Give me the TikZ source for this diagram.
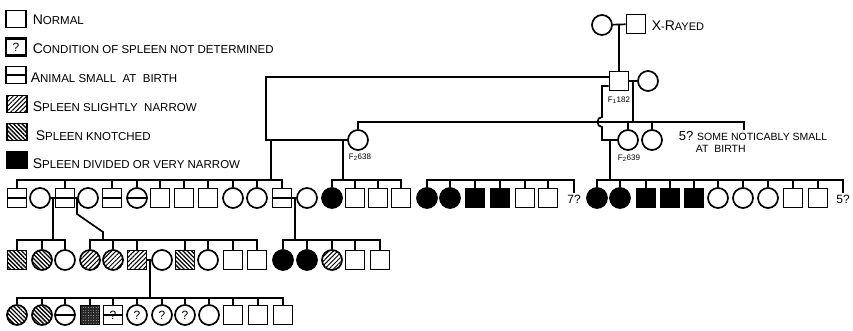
\documentclass[tikz,border=0pt]{standalone}
\usepackage{fontspec}
\setmainfont{Liberation Sans}
\usetikzlibrary{patterns.meta}

\newcommand{\bigfirst}[1]{{\fontsize{14}{14}\selectfont #1}}

\begin{document}
\begin{tikzpicture}[x=1pt, y=-1pt, line width=1.7pt,
    sq/.style={draw, rectangle, minimum size=19pt, inner sep=0pt},
    ci/.style={draw, circle, minimum size=20pt, inner sep=0pt},
    sab/.style={path picture={\draw[line width=1.3pt] (path picture bounding box.west) -- (path picture bounding box.east);}},
    narrowsp/.style={pattern={Lines[angle=45, distance=3.2pt, line width=1pt]}},
    knotsp/.style={pattern={Lines[angle=-45, distance=3pt, line width=1.3pt]}},
    divsp/.style={fill=black},
    stipsp/.style={preaction={fill=black!85}, pattern={Dots[distance=2.6pt, radius=0.4pt]}, pattern color=white},
    unk/.style={font=\fontsize{12}{12}\selectfont},
    key/.style={draw, rectangle, minimum width=20pt, minimum height=17pt, inner sep=0pt},
    keytext/.style={anchor=west, font=\fontsize{11.5}{12}\selectfont, inner sep=0pt},
    tag/.style={font=\fontsize{8}{8}\selectfont, inner sep=0pt}]
    \useasboundingbox (0,0) rectangle (853,331);

    % legend
    \node[key] (Key1) at (16,19) {};
    \node[key, line width=2.6pt, unk] (Key2) at (16,47) {?};
    \node[key, sab] (Key3) at (16,75) {};
    \node[key, narrowsp] (Key4) at (17,104) {};
    \node[key, knotsp] (Key5) at (17,132) {};
    \node[key, divsp] (Key6) at (17,160) {};
    \node[keytext] (Lab1) at (32,20) {\bigfirst{N}ORMAL};
    \node[keytext] (Lab2) at (32,49) {\bigfirst{C}ONDITION OF SPLEEN NOT DETERMINED};
    \node[keytext] (Lab3) at (30,78) {\bigfirst{A}NIMAL SMALL\ \ AT\ \ BIRTH};
    \node[keytext] (Lab4) at (32,107) {\bigfirst{S}PLEEN SLIGHTLY\ \ NARROW};
    \node[keytext] (Lab5) at (35,136) {\bigfirst{S}PLEEN KNOTCHED};
    \node[keytext] (Lab6) at (32,164) {\bigfirst{S}PLEEN DIVIDED OR VERY NARROW};

    % x-rayed parents and F1 182
    \node[ci] (P1) at (602,25) {};
    \node[sq] (P2) at (636,24) {};
    \node[keytext, font=\fontsize{11}{11}\selectfont] (XR) at (651,26) {\bigfirst{X}-\bigfirst{R}AYED};
    \draw (P1) -- (P2);
    \coordinate (PM) at (619,25);
    \node[sq] (F) at (619,81) {};
    \node[ci] (Fm) at (648,81) {};
    \node[tag] (Ftag) at (619,100) {F\textsubscript{1}182};
    \draw (PM) -- (F.north);
    \draw (F) -- (Fm);

    % F2 daughters
    \node[ci] (D1) at (358,140) {};
    \node[ci] (D2) at (628,140) {};
    \node[ci] (D3) at (652,140) {};
    \node[tag] (D1tag) at (360,157) {F\textsubscript{2}638};
    \node[tag] (D2tag) at (629,158) {F\textsubscript{2}639};
    \node[anchor=west, inner sep=0pt, font=\fontsize{10.5}{11}\selectfont] (Note1) at (678,136) {{\fontsize{13}{13}\selectfont 5?} SOME NOTICABLY SMALL};
    \node[anchor=west, inner sep=0pt, font=\fontsize{10.5}{11}\selectfont] (Note2) at (695,149) {AT\ \ BIRTH};
    \coordinate (L1) at (0,122);
    \coordinate (FM) at (633,81);
    \coordinate (T5) at (744,130);
    \draw (FM) -- (FM |- L1);
    \draw (D1.north) -- (D1 |- L1) -- (T5 |- L1) -- (T5);
    \draw (D2.north) -- (D2 |- L1);
    \draw (D3.north) -- (D3 |- L1);

    % F1 182 mated to F2 638 and to F2 639
    \coordinate (J1) at (266,77);
    \coordinate (J2) at (266,140);
    \draw ([yshift=4pt]F.west) -- (J1) -- (J2) -- (D1.west);
    \coordinate (H1) at (602,86);
    \coordinate (H2) at (602,117);
    \coordinate (H3) at (602,127);
    \coordinate (H4) at (602,140);
    \draw ([yshift=-5pt]F.west) -- (H1) -- (H2) .. controls (596,117) and (596,127) .. (H3) -- (H4) -- (D2.west);

    % second row
    \node[sq, sab] (A1) at (17,198) {};
    \node[ci] (A2) at (40,198) {};
    \node[sq, sab] (A3) at (65,198) {};
    \node[ci] (A4) at (88,198) {};
    \node[sq, sab] (A5) at (112,198) {};
    \node[ci, sab] (A6) at (137,198) {};
    \node[sq] (A7) at (160,198) {};
    \node[sq] (A8) at (184,198) {};
    \node[sq] (A9) at (208,198) {};
    \node[ci] (A10) at (233,198) {};
    \node[ci] (A11) at (257,198) {};
    \node[sq, sab] (A12) at (282,198) {};
    \node[ci] (A13) at (307,198) {};
    \node[ci, divsp] (A14) at (332,198) {};
    \node[sq] (A15) at (355,198) {};
    \node[sq] (A16) at (378,198) {};
    \node[sq] (A17) at (401,198) {};
    \node[ci, divsp] (A18) at (427,198) {};
    \node[ci, divsp] (A19) at (450,198) {};
    \node[sq, divsp] (A20) at (475,198) {};
    \node[sq, divsp] (A21) at (500,198) {};
    \node[sq] (A22) at (525,198) {};
    \node[sq] (A23) at (548,198) {};
    \node[inner sep=1pt, font=\fontsize{12}{12}\selectfont] (N7) at (574,199) {7?};
    \node[ci, divsp] (A24) at (597,198) {};
    \node[ci, divsp] (A25) at (620,198) {};
    \node[sq, divsp] (A26) at (646,198) {};
    \node[sq, divsp] (A27) at (670,198) {};
    \node[sq, divsp] (A28) at (694,198) {};
    \node[ci] (A29) at (718,198) {};
    \node[ci] (A30) at (743,198) {};
    \node[ci] (A31) at (768,198) {};
    \node[sq] (A32) at (793,198) {};
    \node[sq] (A33) at (818,198) {};
    \node[inner sep=1pt, font=\fontsize{12}{12}\selectfont] (N5) at (843,199) {5?};

    % sibship lines of the second row
    \coordinate (L2) at (0,180);
    \coordinate (M1) at (271,140);
    \coordinate (M2) at (343,140);
    \coordinate (M3) at (610,140);
    \draw (M1) -- (M1 |- L2);
    \draw (M2) -- (M2 |- L2);
    \draw (M3) -- (M3 |- L2);
    \draw (A1.north) -- (A1 |- L2) -- (A12 |- L2) -- (A12.north);
    \foreach \n in {A3,A5,A6,A7,A8,A9,A10,A11}
        \draw (\n.north) -- (\n |- L2);
    \draw (A14.north) -- (A14 |- L2) -- (A17 |- L2) -- (A17.north);
    \foreach \n in {A15,A16}
        \draw (\n.north) -- (\n |- L2);
    \draw (A18.north) -- (A18 |- L2) -- (N7 |- L2) -- (N7.north);
    \foreach \n in {A19,A20,A21,A22,A23}
        \draw (\n.north) -- (\n |- L2);
    \draw (A24.north) -- (A24 |- L2) -- (N5 |- L2) -- (N5.north);
    \foreach \n in {A25,A26,A27,A28,A29,A30,A31,A32,A33}
        \draw (\n.north) -- (\n |- L2);

    % third row
    \node[sq, knotsp] (B1) at (17,260) {};
    \node[ci, knotsp] (B2) at (42,260) {};
    \node[ci] (B3) at (65,260) {};
    \node[ci, narrowsp] (B4) at (90,260) {};
    \node[ci, narrowsp] (B5) at (113,260) {};
    \node[sq, narrowsp] (B6) at (137,260) {};
    \node[ci] (B7) at (162,260) {};
    \node[sq, knotsp] (B8) at (185,260) {};
    \node[ci] (B9) at (208,260) {};
    \node[sq] (B10) at (233,260) {};
    \node[sq] (B11) at (257,260) {};
    \node[ci, divsp] (B12) at (283,260) {};
    \node[ci, divsp] (B13) at (307,260) {};
    \node[ci, narrowsp] (B14) at (332,260) {};
    \node[sq] (B15) at (355,260) {};
    \node[sq] (B16) at (380,260) {};

    % matings in the second row and their litters
    \coordinate (L3) at (0,240);
    \draw (A2) -- (A3);
    \draw (A3) -- (A4);
    \draw (A12) -- (A13);
    \coordinate (M4) at (53,198);
    \coordinate (M5) at (77,198);
    \coordinate (M5a) at (77,214);
    \coordinate (M5b) at (103,232);
    \coordinate (M6) at (295,198);
    \draw (M4) -- (M4 |- L3);
    \draw (M5) -- (M5a) -- (M5b) -- (M5b |- L3);
    \draw (M6) -- (M6 |- L3);
    \draw (B1.north) -- (B1 |- L3) -- (B3 |- L3) -- (B3.north);
    \draw (B2.north) -- (B2 |- L3);
    \draw (B4.north) -- (B4 |- L3) -- (B11 |- L3) -- (B11.north);
    \foreach \n in {B5,B6,B8,B9,B10}
        \draw (\n.north) -- (\n |- L3);
    \draw (B12.north) -- (B12 |- L3) -- (B16 |- L3) -- (B16.north);
    \foreach \n in {B13,B14,B15}
        \draw (\n.north) -- (\n |- L3);

    % fourth row
    \node[ci, knotsp] (C1) at (17,315) {};
    \node[ci, knotsp] (C2) at (42,315) {};
    \node[ci, sab] (C3) at (65,315) {};
    \node[sq, stipsp] (C4) at (90,315) {};
    \node[sq, sab, unk] (C5) at (113,315) {?};
    \node[ci, unk] (C6) at (137,315) {?};
    \node[ci, unk] (C7) at (162,315) {?};
    \node[ci, unk] (C8) at (185,315) {?};
    \node[ci] (C9) at (209,315) {};
    \node[sq] (C10) at (233,315) {};
    \node[sq] (C11) at (258,315) {};
    \node[sq] (C12) at (283,315) {};
    \coordinate (L4) at (0,298);
    \coordinate (M7) at (150,260);
    \draw (B6) -- (B7);
    \draw (M7) -- (M7 |- L4);
    \draw (C1.north) -- (C1 |- L4) -- (C12 |- L4) -- (C12.north);
    \foreach \n in {C2,C3,C4,C5,C6,C7,C8,C9,C10,C11}
        \draw (\n.north) -- (\n |- L4);
\end{tikzpicture}
\end{document}
